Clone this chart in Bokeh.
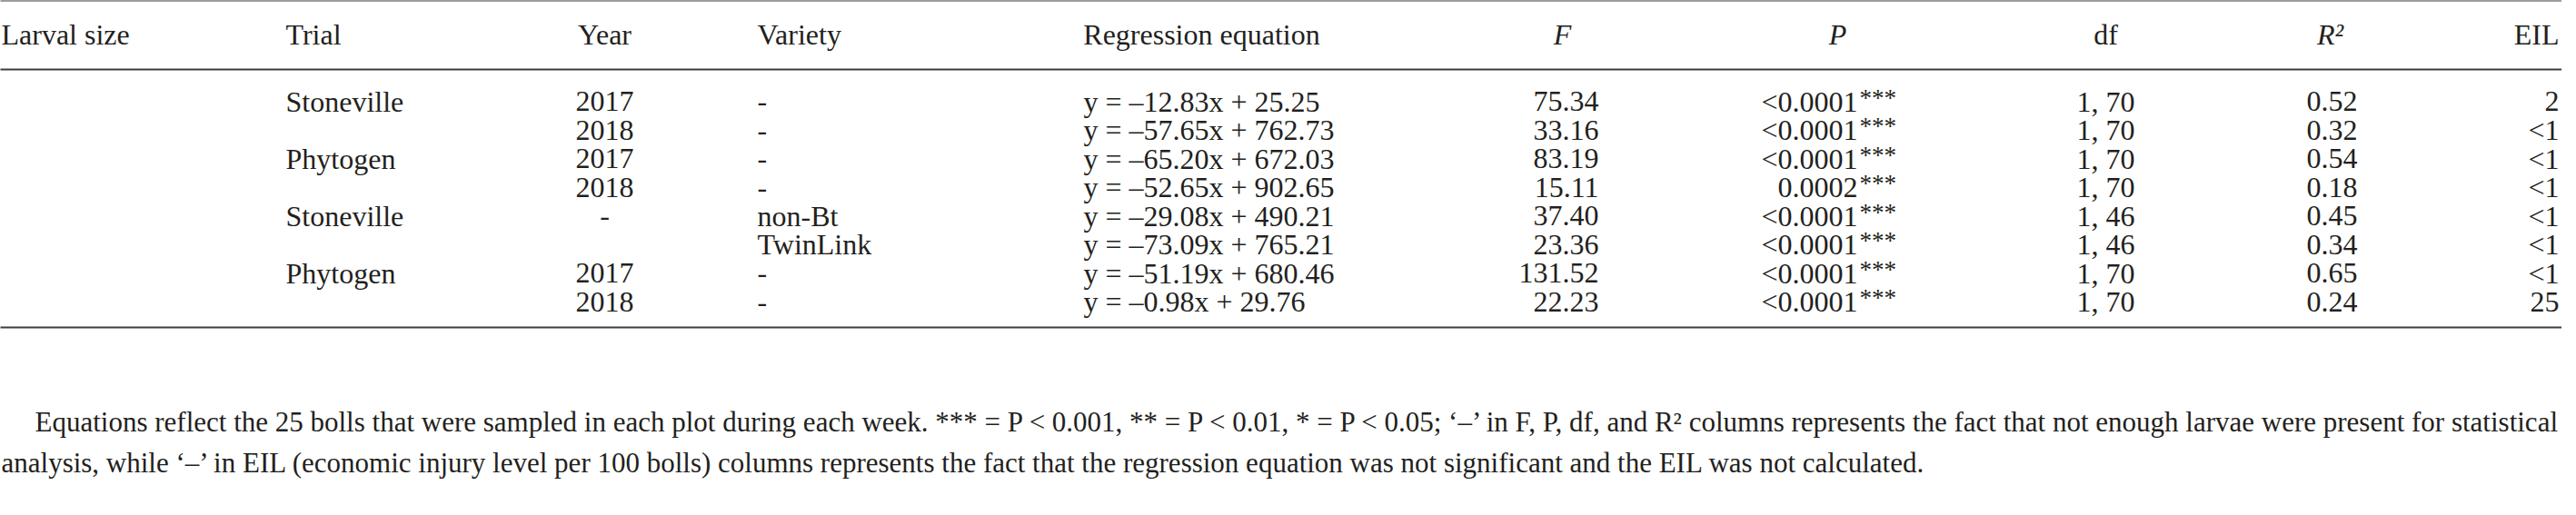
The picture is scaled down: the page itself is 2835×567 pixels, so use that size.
from bokeh.plotting import figure
from bokeh.models import Range1d
from bokeh.core.properties import value
from bokeh.embed import file_html
from bokeh.resources import INLINE

# ---- data ----
headers_plain = ["Larval size", "Trial", "Year", "Variety", "Regression equation", "df", "EIL"]
headers_italic = ["F", "P", "R²"]
trials = ["Stoneville", "", "Phytogen", "", "Stoneville", "", "Phytogen", ""]
years = ["2017", "2018", "2017", "2018", "-", "", "2017", "2018"]
varieties = ["-", "-", "-", "-", "non-Bt", "TwinLink", "-", "-"]
equations = ["y = –12.83x + 25.25", "y = –57.65x + 762.73", "y = –65.20x + 672.03",
             "y = –52.65x + 902.65", "y = –29.08x + 490.21", "y = –73.09x + 765.21",
             "y = –51.19x + 680.46", "y = –0.98x + 29.76"]
f_vals = ["75.34", "33.16", "83.19", "15.11", "37.40", "23.36", "131.52", "22.23"]
p_vals = ["<0.0001", "<0.0001", "<0.0001", "0.0002", "<0.0001",
          "<0.0001", "<0.0001", "<0.0001"]
p_sig = ["***", "***", "***", "***", "***", "***", "***", "***"]
df_vals = ["1, 70", "1, 70", "1, 70", "1, 70", "1, 46", "1, 46", "1, 70", "1, 70"]
r2_vals = ["0.52", "0.32", "0.54", "0.18", "0.45", "0.34", "0.65", "0.24"]
eil_vals = ["2", "<1", "<1", "<1", "<1", "<1", "<1", "25"]
footnote = [
    "Equations reflect the 25 bolls that were sampled in each plot during each week. *** = P < 0.001, ** = P < 0.01, * = P < 0.05; ‘–’ in F, P, df, and R² columns represents the fact that not enough larvae were present for statistical",
    "analysis, while ‘–’ in EIL (economic injury level per 100 bolls) columns represents the fact that the regression equation was not significant and the EIL was not calculated.",
]

# ---- layout (screen pixels) ----
FONT = value("Liberation Serif")
FS = "32px"
COL = "#231f20"
RULE = "#3c3c3c"
X0, X1 = 7, 2828
Y_TOP_RULE, Y_HEAD, Y_HEAD_RULE = 8, 45, 84
ROW0, ROWSTEP = 119, 31.5
n = len(trials)
row_y = [ROW0 + i * ROWSTEP for i in range(n)]
Y_BOT_RULE = 368
FOOT_Y = [472, 517]

p = figure(width=2819, height=551, x_range=Range1d(8, 2827), y_range=Range1d(559, 8),
           output_backend="svg", toolbar_location=None, min_border=0,
           x_axis_location=None, y_axis_location=None)
p.grid.visible = False
p.outline_line_color = None
p.background_fill_color = "white"
p.border_fill_color = "white"

# rules
ry = [Y_TOP_RULE, Y_HEAD_RULE, Y_BOT_RULE]
p.segment(x0=[X0] * 3, x1=[X1] * 3, y0=ry, y1=ry, line_width=2.2, line_color=RULE)

def txt(xs, ys, texts, align, style="normal", size=FS):
    p.text(x=xs, y=ys, text=texts, text_font=FONT, text_font_size=size,
           text_align=align, text_baseline="middle", text_color=COL,
           text_font_style=style)

# headers
hx = {"Larval size": (9, "left"), "Trial": (322, "left"), "Year": (673, "center"),
      "Variety": (841, "left"), "Regression equation": (1330, "center"),
      "df": (2325, "center"), "EIL": (2824, "right")}
for h in headers_plain:
    x, a = hx[h]
    txt([x], [Y_HEAD], [h], a)
ix = {"F": 1727, "P": 2030, "R²": 2572}
for h in headers_italic:
    txt([ix[h]], [Y_HEAD], [h], "center", style="italic")

# body
txt([322] * n, row_y, trials, "left")
txt([673] * n, row_y, years, "center")
txt([841] * n, row_y, varieties, "left")
txt([1200] * n, row_y, equations, "left")
txt([1767] * n, row_y, f_vals, "right")
txt([2052] * n, row_y, p_vals, "right")
txt([2054] * n, [y - 4 for y in row_y], p_sig, "left", size="27px")
txt([2325] * n, row_y, df_vals, "center")
txt([2574] * n, row_y, r2_vals, "center")
txt([2824] * n, row_y, eil_vals, "right")

# footnote
txt([46, 9], FOOT_Y, footnote, "left", size="31px")

open("out.html", "w").write(file_html(p, INLINE))
